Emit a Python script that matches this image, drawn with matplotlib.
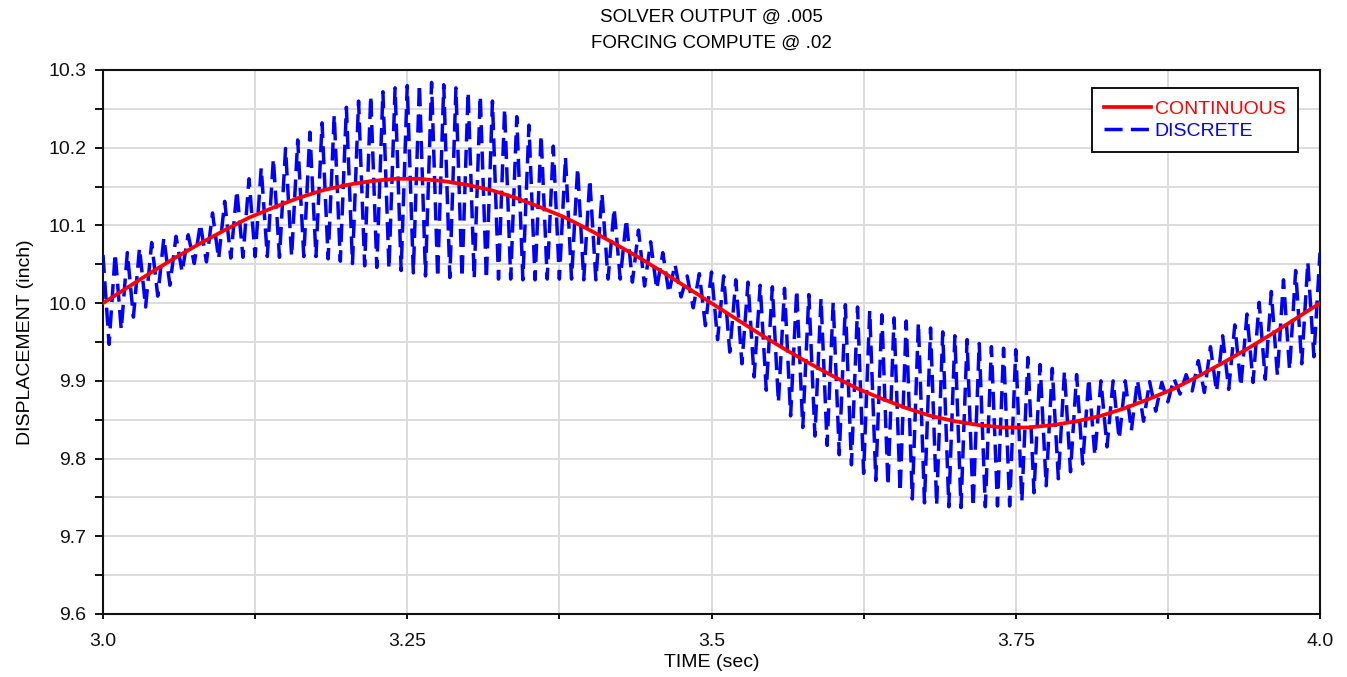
import numpy as np
import matplotlib
matplotlib.use("Agg")
import matplotlib.pyplot as plt
from matplotlib.ticker import MultipleLocator, FixedLocator, FixedFormatter

plt.rcParams['font.family'] = ['Liberation Sans', 'DejaVu Sans']
plt.rcParams['lines.scale_dashes'] = False

# ---- data ----
title_lines = ["SOLVER OUTPUT @ .005", "FORCING COMPUTE @ .02"]
x_label = "TIME (sec)"
y_label = "DISPLACEMENT (inch)"
series_names = ["CONTINUOUS", "DISCRETE"]

t_start, t_end = 3.0, 4.0
forcing_dt = 0.02
solver_dt = 0.005

continuous = [
    10.000, 10.020, 10.040, 10.059, 10.077, 10.094, 10.110, 10.123, 10.135, 10.145,
    10.152, 10.157, 10.160, 10.160, 10.157, 10.152, 10.145, 10.135, 10.123, 10.110,
    10.094, 10.077, 10.059, 10.040, 10.020, 10.000, 9.980, 9.960, 9.941, 9.923,
    9.906, 9.890, 9.877, 9.865, 9.855, 9.848, 9.843, 9.840, 9.840, 9.843,
    9.848, 9.855, 9.865, 9.877, 9.890, 9.906, 9.923, 9.941, 9.960, 9.980,
    10.000,
]

discrete = [
    10.062, 9.947, 10.064, 9.966, 10.065, 9.982, 10.071, 9.995, 10.078, 10.009,
    10.084, 10.023, 10.086, 10.040, 10.088, 10.051, 10.102, 10.053, 10.116, 10.057,
    10.131, 10.058, 10.145, 10.059, 10.160, 10.060, 10.174, 10.060, 10.186, 10.059,
    10.199, 10.060, 10.210, 10.060, 10.220, 10.060, 10.232, 10.057, 10.242, 10.054,
    10.252, 10.051, 10.260, 10.048, 10.267, 10.046, 10.272, 10.044, 10.277, 10.042,
    10.280, 10.039, 10.282, 10.035, 10.284, 10.033, 10.281, 10.033, 10.277, 10.033,
    10.272, 10.032, 10.267, 10.031, 10.260, 10.031, 10.250, 10.031, 10.240, 10.030,
    10.229, 10.030, 10.216, 10.031, 10.202, 10.031, 10.188, 10.031, 10.174, 10.030,
    10.159, 10.030, 10.141, 10.031, 10.122, 10.031, 10.108, 10.027, 10.094, 10.022,
    10.079, 10.018, 10.065, 10.013, 10.050, 10.008, 10.035, 9.994, 10.038, 9.971,
    10.040, 9.953, 10.035, 9.937, 10.030, 9.922, 10.027, 9.905, 10.023, 9.888,
    10.021, 9.872, 10.019, 9.855, 10.017, 9.840, 10.011, 9.829, 10.006, 9.817,
    10.001, 9.805, 9.998, 9.792, 9.995, 9.781, 9.990, 9.772, 9.985, 9.765,
    9.981, 9.757, 9.977, 9.748, 9.975, 9.743, 9.968, 9.740, 9.963, 9.738,
    9.958, 9.737, 9.953, 9.738, 9.948, 9.738, 9.944, 9.739, 9.942, 9.739,
    9.940, 9.745, 9.930, 9.756, 9.921, 9.765, 9.916, 9.774, 9.912, 9.783,
    9.908, 9.793, 9.903, 9.804, 9.900, 9.815, 9.900, 9.825, 9.900, 9.836,
    9.901, 9.848, 9.899, 9.861, 9.898, 9.873, 9.903, 9.883, 9.908, 9.887,
    9.926, 9.885, 9.944, 9.886, 9.958, 9.889, 9.972, 9.893, 9.986, 9.898,
    10.001, 9.902, 10.015, 9.907, 10.030, 9.914, 10.042, 9.922, 10.053, 9.931,
    10.065,
]

x_ticks = [3.0, 3.25, 3.5, 3.75, 4.0]
x_tick_labels = ["3.0", "3.25", "3.5", "3.75", "4.0"]
y_ticks = [9.6, 9.7, 9.8, 9.9, 10.0, 10.1, 10.2, 10.3]
y_tick_labels = ["9.6", "9.7", "9.8", "9.9", "10.0", "10.1", "10.2", "10.3"]

t_cont = np.linspace(t_start, t_end, len(continuous))
t_disc = np.linspace(t_start, t_end, len(discrete))

# ---- figure ----
fig = plt.figure(figsize=(13.47, 6.77), dpi=100)
ax = fig.add_axes([103/1347, 1-614/677, (1320-103)/1347, (614-70)/677])

ax.plot(t_disc, discrete, color='#0000ff', lw=2.5,
        linestyle=(0, (13, 6)), label=series_names[1], zorder=3)
ax.plot(t_cont, continuous, color='#ff0000', lw=2.7,
        label=series_names[0], zorder=4)

ax.set_xlim(t_start, t_end)
ax.set_ylim(9.6, 10.3)

ax.xaxis.set_major_locator(FixedLocator(x_ticks))
ax.xaxis.set_major_formatter(FixedFormatter(x_tick_labels))
ax.xaxis.set_minor_locator(MultipleLocator(0.125))
ax.yaxis.set_major_locator(FixedLocator(y_ticks))
ax.yaxis.set_major_formatter(FixedFormatter(y_tick_labels))
ax.yaxis.set_minor_locator(MultipleLocator(0.05))

ax.grid(True, which='both', color='#dcdcdc', lw=1.4, zorder=0)
ax.set_axisbelow(True)

for s in ax.spines.values():
    s.set_linewidth(1.5)
    s.set_color('#111111')

ax.tick_params(axis='y', which='both', direction='out', length=6, width=1.4,
               labelsize=14, pad=6, colors='#111111')
ax.tick_params(axis='x', which='both', direction='out', length=3.5, width=1.4,
               labelsize=14, pad=10, colors='#111111')

ax.set_xlabel(x_label, fontsize=14)
ax.xaxis.set_label_coords(0.5, -0.074)
ax.set_ylabel(y_label, fontsize=14)
ax.yaxis.set_label_coords(-0.057, 0.5)

fig.text(711/1347, 1-17/677, title_lines[0], ha='center', va='center', fontsize=13.5)
fig.text(711/1347, 1-43/677, title_lines[1], ha='center', va='center', fontsize=13.5)

handles, labels = ax.get_legend_handles_labels()
order = [1, 0]
leg = ax.legend([handles[i] for i in order], [labels[i] for i in order],
                loc='upper right', bbox_to_anchor=(0.982, 0.967),
                borderaxespad=0, fontsize=14, labelcolor='linecolor',
                handlelength=2.4, handletextpad=0.2, labelspacing=0.2,
                borderpad=0.65, fancybox=False, framealpha=1,
                edgecolor='#111111')
leg.get_frame().set_linewidth(1.4)

fig.savefig("out.png", dpi=100)
